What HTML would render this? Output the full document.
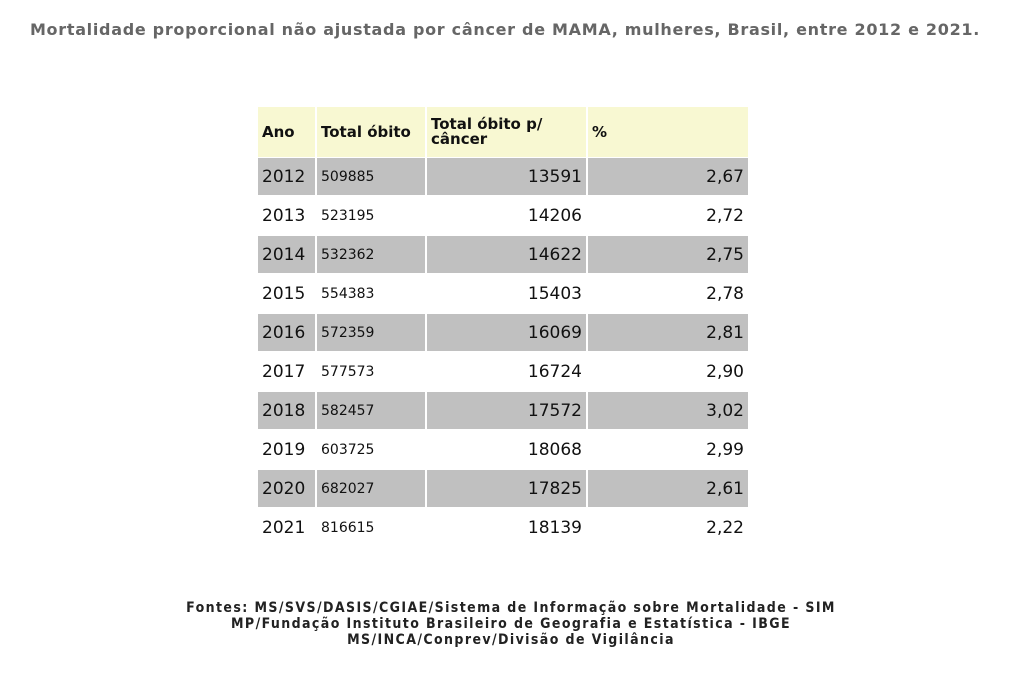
<!DOCTYPE html>
<html><head><meta charset="utf-8"><style>
body{margin:0;width:1024px;height:676px;background:#fff;font-family:"DejaVu Sans",Verdana,sans-serif;position:relative;overflow:hidden}
#title{position:absolute;left:0;width:1010px;top:20px;text-align:center;font-weight:bold;font-size:16px;letter-spacing:0.7px;color:#666;white-space:nowrap}
table{position:absolute;left:256px;top:107px;border-collapse:separate;border-spacing:2px 0}
td,th{padding:0 4px;height:39px;box-sizing:border-box}
th{background:#f8f8d2;font-size:15px;text-align:left;height:50px;line-height:15px;color:#111}
td{font-size:17px;color:#111;border-top:1px solid #fff;border-bottom:1px solid #fff}
td.b{font-size:14px}
td.r{text-align:right}
tr.g td{background:#c0c0c0}
#foot{position:absolute;left:0;width:1022px;top:600px;text-align:center;font-family:"DejaVu Sans Condensed","DejaVu Sans",sans-serif;font-weight:bold;font-size:14px;letter-spacing:1.4px;line-height:16px;color:#222;white-space:nowrap}
</style></head><body>
<div id="title">Mortalidade proporcional não ajustada por câncer de MAMA, mulheres, Brasil, entre 2012 e 2021.</div>
<table>
<thead><tr>
<th style="width:57px">Ano</th>
<th style="width:108px">Total óbito</th>
<th style="width:159px">Total óbito p/<br>câncer</th>
<th style="width:160px">%</th></tr></thead>
<tbody id="tb"></tbody></table>
<div id="foot">Fontes: MS/SVS/DASIS/CGIAE/Sistema de Informação sobre Mortalidade - SIM<br>MP/Fundação Instituto Brasileiro de Geografia e Estatística - IBGE<br>MS/INCA/Conprev/Divisão de Vigilância</div>
<script>
const years=[2012,2013,2014,2015,2016,2017,2018,2019,2020,2021];
const totalDeaths=[509885,523195,532362,554383,572359,577573,582457,603725,682027,816615];
const cancerDeaths=[13591,14206,14622,15403,16069,16724,17572,18068,17825,18139];
const percents=["2,67","2,72","2,75","2,78","2,81","2,90","3,02","2,99","2,61","2,22"];
const tb=document.getElementById('tb');
years.forEach((y,i)=>{
const tr=document.createElement('tr');


if(i%2===0)tr.className='g';
const vals=[[y,''],[totalDeaths[i],'b'],[cancerDeaths[i],'r'],[percents[i],'r']];
const names=['year','total-deaths','cancer-deaths','percent'];
vals.forEach((v,j)=>{const td=document.createElement('td');


td.className=v[1];td.textContent=v[0];tr.appendChild(td);});
tb.appendChild(tr);});
</script>
</body></html>
